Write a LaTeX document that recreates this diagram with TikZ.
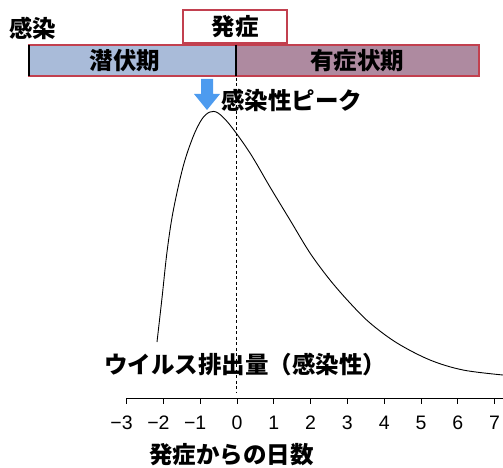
\documentclass[tikz,border=0pt]{standalone}
\usepackage{fontspec}
\newfontfamily\jp{Noto Sans CJK JP}
\newfontfamily\num{Liberation Sans}
\definecolor{barblue}{HTML}{A9BBD9}
\definecolor{barmauve}{HTML}{AE8AA0}
\definecolor{barred}{HTML}{C2404F}
\definecolor{arrblue}{HTML}{4D9BEF}
\tikzset{
  jplabel/.style={font=\jp\bfseries\fontsize{23.5}{25}\selectfont, inner sep=0pt},
  ticklabel/.style={font=\num\fontsize{19.5}{21}\selectfont, inner sep=0pt},
  barbox/.style={draw=barred, line width=1.4pt},
}
\begin{document}
\begin{tikzpicture}[x=1pt,y=-1pt]
\useasboundingbox (0,0) rectangle (503,468);
% bar
\fill[barblue] (29,45) rectangle (236,76);
\fill[barmauve] (236,45) rectangle (479,76);
\draw[barbox] (29,45) rectangle (479,76);
\draw[line width=1.4pt] (29,45) -- (29,76);
\draw[line width=1.2pt] (236,45) -- (236,76);
\node[jplabel] (senpuku) at (125,61) {潜伏期};
\node[jplabel] (yusho) at (357,61) {有症状期};
% onset box
\node[draw=barred, line width=1.4pt, fill=white, minimum width=104pt, minimum height=33pt, inner sep=0pt] (onsetbox) at (235,26.5) {};
\node[jplabel] (onset) at (235,27) {発症};
\node[jplabel, anchor=west] (kansen) at (9,28) {感染};
% arrow
\fill[arrblue] (201,79) -- (213,79) -- (213,94) -- (220,94) -- (207,110) -- (194,94) -- (201,94) -- cycle;
\node[jplabel, anchor=west] (peak) at (221,100) {感染性ピーク};
% dashed line
\coordinate (dtop) at (236.5,78);
\coordinate (dbot) at (236.5,393);
\draw[dashed, dash pattern=on 3pt off 2.5pt, line width=0.9pt] (dtop) -- (dbot);
% curve
\draw[line width=0.9pt] plot[smooth, tension=0.55] coordinates {
(157,342) (162,298) (167,252) (173,212) (183,167) (193,137) (202,119) (210,112) (218,113) (230,125) (250,153) (270,187) (290,220) (310,253) (330,280) (350,303) (370,323) (397,343) (430,360) (463,370) (503,375)};
\node[jplabel, anchor=west] (shed) at (104,365) {ウイルス排出量（感染性）};
% axis
\coordinate (axl) at (126.8,398);
\coordinate (axr) at (503,398);
\draw[line width=0.7pt] (axl) -- (axr);
\foreach \t/\lab/\dx in {-3/−3/-5,-2/−2/-5,-1/−1/-5,0/0/0,1/1/0,2/2/0,3/3/0,4/4/0,5/5/0,6/6/0,7/7/0} {
  \pgfmathsetmacro{\xx}{237+36.8*\t}
  \pgfmathsetmacro{\xl}{\xx+\dx}
  \draw[line width=0.7pt] (\xx,398) -- (\xx,404);
  \node[ticklabel] (tick\t) at (\xl,423) {\lab};
}
\node[jplabel, anchor=west] (xlabel) at (149,455) {発症からの日数};
\end{tikzpicture}
\end{document}
